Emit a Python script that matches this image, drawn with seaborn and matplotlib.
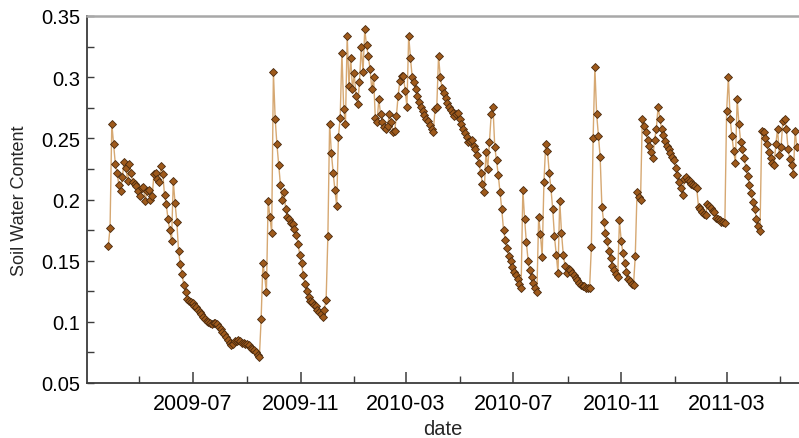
import matplotlib
matplotlib.use("Agg")
import matplotlib.pyplot as plt
import matplotlib.dates as mdates
from matplotlib.ticker import FuncFormatter, MultipleLocator
import numpy as np
import pandas as pd
import seaborn as sns

# ---- data (one reading every 2 days) ----
start_date = "2009-03-27"
step = "2D"
swc_2009a = [
    0.162, 0.177, 0.262, 0.245, 0.229, 0.222, 0.212, 0.207, 0.218, 0.231,
    0.226, 0.215, 0.229, 0.222, 0.214, 0.213, 0.211, 0.207, 0.203, 0.209,
    0.210, 0.199, 0.207, 0.208, 0.200, 0.203, 0.221, 0.222, 0.217, 0.214,
    0.227, 0.221, 0.204, 0.196, 0.184, 0.175, 0.166, 0.215, 0.197, 0.182,
    0.158, 0.147, 0.139, 0.130, 0.124, 0.119, 0.117, 0.116, 0.115, 0.113,
    0.112, 0.110, 0.108, 0.106, 0.104, 0.102, 0.101, 0.100, 0.099, 0.098,
    0.099, 0.099, 0.098, 0.096, 0.094, 0.092, 0.090, 0.088, 0.085, 0.083,
    0.081, 0.082, 0.084, 0.084, 0.085, 0.084, 0.083, 0.083, 0.082, 0.082,
    0.081, 0.079, 0.078, 0.077, 0.075, 0.073, 0.071, 0.102, 0.148, 0.138,
    0.124, 0.199, 0.186, 0.173, 0.304, 0.266, 0.245, 0.228, 0.212, 0.200,
]
swc_2009b = [
    0.206, 0.192, 0.186, 0.184, 0.181, 0.180, 0.176, 0.171, 0.164, 0.155,
    0.148, 0.138, 0.131, 0.125, 0.120, 0.117, 0.116, 0.114, 0.113, 0.110,
    0.108, 0.106, 0.104, 0.110, 0.118, 0.170, 0.262, 0.238, 0.222, 0.208,
    0.195, 0.251, 0.267, 0.320, 0.274, 0.262, 0.334, 0.293, 0.316, 0.290,
    0.303, 0.285, 0.278, 0.296, 0.325, 0.304, 0.339, 0.326, 0.317, 0.307,
    0.290, 0.300, 0.267, 0.263, 0.282, 0.270, 0.263, 0.259, 0.258, 0.260,
    0.270, 0.263, 0.255, 0.256, 0.268, 0.285, 0.297, 0.301, 0.301, 0.289,
    0.276, 0.334, 0.316, 0.300, 0.296, 0.290, 0.285, 0.280, 0.276, 0.272,
    0.269, 0.266, 0.264, 0.261, 0.258, 0.255, 0.274, 0.276, 0.317, 0.300,
    0.291, 0.287, 0.283, 0.279, 0.276, 0.273, 0.271, 0.268, 0.270, 0.271,
]
swc_2010 = [
    0.266, 0.262, 0.258, 0.254, 0.251, 0.247, 0.248, 0.249, 0.244, 0.241,
    0.236, 0.230, 0.222, 0.213, 0.206, 0.239, 0.225, 0.247, 0.270, 0.276,
    0.243, 0.232, 0.220, 0.206, 0.192, 0.175, 0.167, 0.160, 0.154, 0.150,
    0.145, 0.141, 0.138, 0.135, 0.131, 0.128, 0.208, 0.184, 0.165, 0.150,
    0.142, 0.137, 0.132, 0.128, 0.124, 0.186, 0.172, 0.153, 0.214, 0.245,
    0.240, 0.222, 0.209, 0.192, 0.170, 0.155, 0.140, 0.199, 0.173, 0.155,
    0.146, 0.140, 0.143, 0.142, 0.140, 0.138, 0.136, 0.134, 0.132, 0.130,
    0.129, 0.129, 0.128, 0.128, 0.128, 0.161, 0.250, 0.308, 0.270, 0.252,
    0.235, 0.194, 0.182, 0.173, 0.166, 0.158, 0.152, 0.146, 0.142, 0.139,
    0.137, 0.183, 0.166, 0.156, 0.148, 0.141, 0.135, 0.133, 0.131, 0.130,
]
swc_2011 = [
    0.154, 0.206, 0.202, 0.200, 0.266, 0.260, 0.255, 0.249, 0.244, 0.239,
    0.234, 0.249, 0.258, 0.276, 0.266, 0.258, 0.253, 0.248, 0.244, 0.241,
    0.238, 0.235, 0.232, 0.226, 0.220, 0.214, 0.209, 0.204, 0.217, 0.218,
    0.216, 0.215, 0.213, 0.212, 0.211, 0.209, 0.194, 0.192, 0.190, 0.188,
    0.187, 0.196, 0.195, 0.193, 0.191, 0.190, 0.185, 0.184, 0.183, 0.182,
    0.182, 0.181, 0.272, 0.300, 0.266, 0.252, 0.240, 0.230, 0.282, 0.262,
    0.247, 0.241, 0.234, 0.226, 0.219, 0.212, 0.205, 0.198, 0.192, 0.184,
    0.178, 0.174, 0.256, 0.255, 0.250, 0.245, 0.239, 0.234, 0.230, 0.228,
    0.245, 0.258, 0.236, 0.243, 0.264, 0.266, 0.258, 0.241, 0.233, 0.228,
    0.221, 0.256, 0.243,
]
x_tick_labels = ["2009-07", "2009-11", "2010-03", "2010-07", "2010-11", "2011-03"]
y_ticks = [0.05, 0.1, 0.15, 0.2, 0.25, 0.3, 0.35]

values = swc_2009a + swc_2009b + swc_2010 + swc_2011
dates = pd.date_range(start_date, periods=len(values), freq=step)
df = pd.DataFrame({"date": dates, "Soil Water Content": values})

# ---- style ----
sns.set_style("ticks")
plt.rcParams["font.family"] = ["Liberation Sans", "DejaVu Sans"]

W, H = 799, 439
fig = plt.figure(figsize=(W / 100, H / 100), dpi=100)
ax = fig.add_axes([87 / W, (H - 384) / H, (W - 87) / W, (384 - 17) / H])

sns.lineplot(
    data=df, x="date", y="Soil Water Content", ax=ax,
    color="#D6A872", linewidth=1.0,
    marker="D", markersize=4.2,
    markerfacecolor="#9E5A1C", markeredgecolor="#4A2A0E", markeredgewidth=0.6,
)

ax.set_xlim(pd.Timestamp("2009-03-02 18:00"), pd.Timestamp("2011-05-22 10:00"))
ax.set_ylim(0.05, 0.35)

ax.set_yticks(y_ticks)
ax.yaxis.set_major_formatter(FuncFormatter(lambda v, p: f"{v:g}"))
ax.yaxis.set_minor_locator(MultipleLocator(0.025))

ax.set_xticks([pd.Timestamp(s + "-01") for s in x_tick_labels])
ax.set_xticklabels(x_tick_labels)
ax.xaxis.set_minor_locator(mdates.MonthLocator(bymonth=[1, 5, 9]))

spine_col = "#3c3c3c"
ax.spines["right"].set_visible(False)
ax.spines["top"].set_color("#a8a8a8")
ax.spines["top"].set_linewidth(1.8)
for s in ("left", "bottom"):
    ax.spines[s].set_color(spine_col)
    ax.spines[s].set_linewidth(1.3)

ax.tick_params(axis="both", which="both", direction="in", color=spine_col,
               labelcolor="black")
ax.tick_params(axis="x", which="major", length=8, width=1.1, pad=7, labelsize=15.5)
ax.tick_params(axis="x", which="minor", length=5, width=1.0)
ax.tick_params(axis="y", which="major", length=5, width=1.0, pad=5, labelsize=14.5)
ax.tick_params(axis="y", which="minor", length=5, width=1.0)
ax.tick_params(top=False, right=False, which="both")

ax.set_xlabel("date", fontsize=14.5, labelpad=4)
ax.set_ylabel("Soil Water Content", fontsize=13, labelpad=9)

fig.savefig("out.png", dpi=100)
